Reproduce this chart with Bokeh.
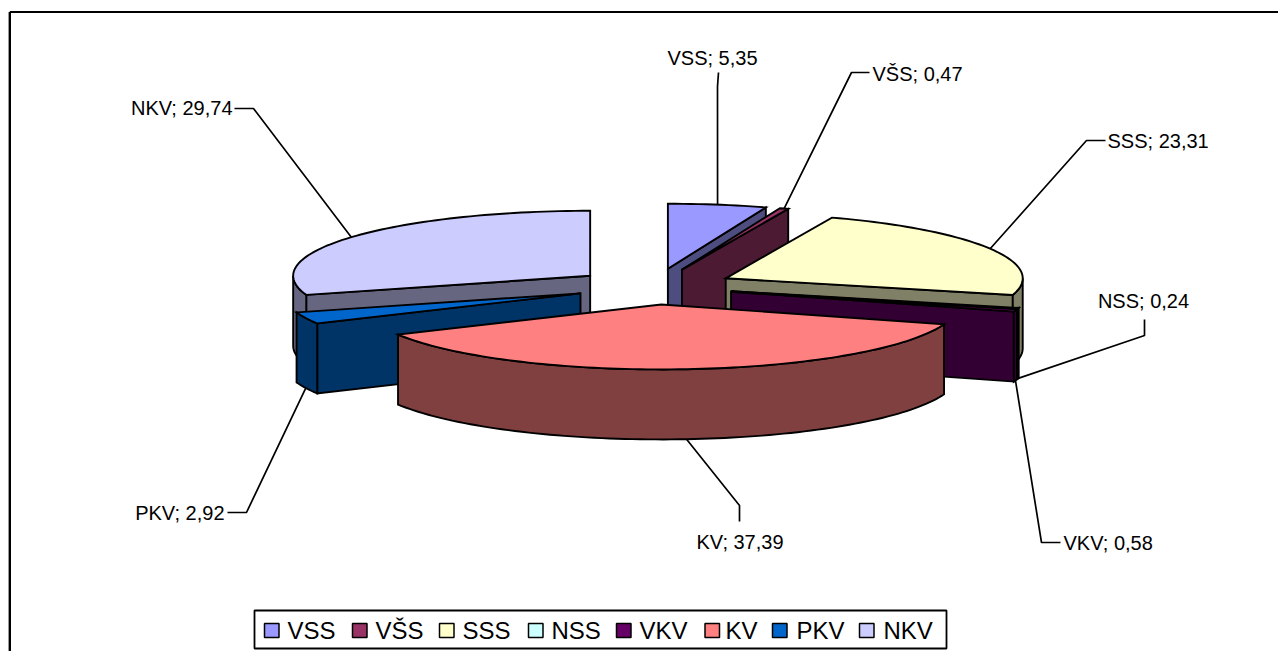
import math
from bokeh.plotting import figure
from bokeh.models import Range1d, ColumnDataSource
from bokeh.core.properties import value
from bokeh.embed import file_html
from bokeh.resources import INLINE

# data
names = ["VSS", "VŠS", "SSS", "NSS", "VKV", "KV", "PKV", "NKV"]
values = [5.35, 0.47, 23.31, 0.24, 0.58, 37.39, 2.92, 29.74]
top_colors = ["#9999FF", "#993366", "#FFFFCC", "#CCFFFF", "#660066", "#FF8080", "#0066CC", "#CCCCFF"]
side_colors = ["#4D4D80", "#4D1A33", "#808066", "#668080", "#330033", "#804040", "#003366", "#666680"]

# layout of the projected pie (pixels)
CX, CY = 654.0, 286.0
RX, RY = 297.0, 65.0
EX, EY = 80.0, 18.0
DEPTH = 70.0
paint_order = ["NKV", "VSS", "VŠS", "SSS", "NSS", "VKV", "PKV", "KV"]
FONT = "Liberation Sans"

W, H = 1278, 651
p = figure(width=W, height=H, x_range=Range1d(0, W), y_range=Range1d(H, 0),
           x_axis_location=None, y_axis_location=None, toolbar_location=None,
           output_backend="svg", min_border=0, background_fill_color="white",
           border_fill_color="white", outline_line_color=None)
p.grid.visible = False

total = sum(values)
starts, ends = {}, {}
acc = 0.0
for n, v in zip(names, values):
    starts[n] = acc / total * 360.0
    acc += v
    ends[n] = acc / total * 360.0


def apex(n):
    m = math.radians((starts[n] + ends[n]) / 2)
    return CX + EX * math.sin(m), CY - EY * math.cos(m)


def rim(n, deg, drop=0.0):
    ax, ay = apex(n)
    a = math.radians(deg)
    return ax + RX * math.sin(a), ay - RY * math.cos(a) + drop


def arc(n, a0, a1, drop=0.0):
    steps = max(2, int(abs(a1 - a0) / 1.5) + 2)
    return [rim(n, a0 + (a1 - a0) * i / (steps - 1), drop) for i in range(steps)]


def poly(pts, fill):
    p.patch([q[0] for q in pts], [q[1] for q in pts], fill_color=fill,
            line_color="black", line_width=1.9, line_join="miter")


for n in paint_order:
    i = names.index(n)
    a0, a1 = starts[n], ends[n]
    ax, ay = apex(n)
    side = side_colors[i]
    # cut faces turned towards the viewer
    if math.cos(math.radians(a0 - 90)) < -1e-6:
        r = rim(n, a0)
        poly([(ax, ay), r, (r[0], r[1] + DEPTH), (ax, ay + DEPTH)], side)
    if math.cos(math.radians(a1 + 90)) < -1e-6:
        r = rim(n, a1)
        poly([(ax, ay), r, (r[0], r[1] + DEPTH), (ax, ay + DEPTH)], side)
    # curved wall
    lo, hi = max(a0, 90.0), min(a1, 270.0)
    if hi > lo:
        poly(arc(n, lo, hi) + arc(n, hi, lo, DEPTH), side)
    # top face
    poly([(ax, ay)] + arc(n, a0, a1), top_colors[i])

# leader lines: label end, elbow, then the point on the slice from the model
leader_start = {"VSS": (718, 72), "VŠS": (869, 72), "SSS": (1105, 140), "NSS": (1144, 319),
                "VKV": (1060, 542), "KV": (739, 521), "PKV": (227, 512), "NKV": (234, 108)}
leader_elbow = {"VSS": (717, 86), "VŠS": (851, 72), "SSS": (1086, 140), "NSS": (1144, 335),
                "VKV": (1041, 542), "KV": (739, 505), "PKV": (246, 512), "NKV": (253, 108)}
leader_on_wall = {"VKV", "NSS", "KV", "PKV"}
for n in names:
    mid = (starts[n] + ends[n]) / 2
    end = rim(n, mid, DEPTH if n in leader_on_wall else 0.0)
    s, e = leader_start[n], leader_elbow[n]
    p.line([s[0], e[0], end[0]], [s[1], e[1], end[1]], line_color="black", line_width=1.7)

# data labels
lab_x = {"VSS": 712, "VŠS": 872, "SSS": 1107, "NSS": 1143, "VKV": 1063, "KV": 739.5, "PKV": 224, "NKV": 232}
lab_y = {"VSS": 57, "VŠS": 73, "SSS": 140, "NSS": 300, "VKV": 542, "KV": 541, "PKV": 512, "NKV": 107}
lab_al = {"VSS": "center", "VŠS": "left", "SSS": "left", "NSS": "center", "VKV": "left", "KV": "center",
          "PKV": "right", "NKV": "right"}
labels = [f"{n}; {v:.2f}".replace(".", ",") for n, v in zip(names, values)]
src = ColumnDataSource(dict(x=[lab_x[n] for n in names], y=[lab_y[n] for n in names], t=labels,
                            al=[lab_al[n] for n in names]))
p.text(x="x", y="y", text="t", text_align="al", source=src, text_font=value(FONT),
       text_font_size="20px", text_color="black", text_baseline="middle")

# frame
p.line([9.3, 9.3], [11.5, H], line_color="black", line_width=2.4)
p.line([9.3, W], [11.5, 11.5], line_color="black", line_width=2)

# legend
p.quad(left=[254], right=[946], top=[610], bottom=[648], fill_color="white", line_color="black", line_width=1.8)
swatch_x = [264, 352, 439, 528, 616, 704.5, 772, 859]
text_x = [287, 375, 462, 551, 639, 725, 796, 883]
p.quad(left=swatch_x, right=[x + 14.5 for x in swatch_x], top=[623] * 8, bottom=[637] * 8,
       fill_color=top_colors, line_color="black", line_width=1.5)
p.text(x=text_x, y=[630] * 8, text=names, text_font=value(FONT), text_font_size="24px",
       text_color="black", text_baseline="middle", text_align="left")

open("out.html", "w").write(file_html(p, INLINE))
